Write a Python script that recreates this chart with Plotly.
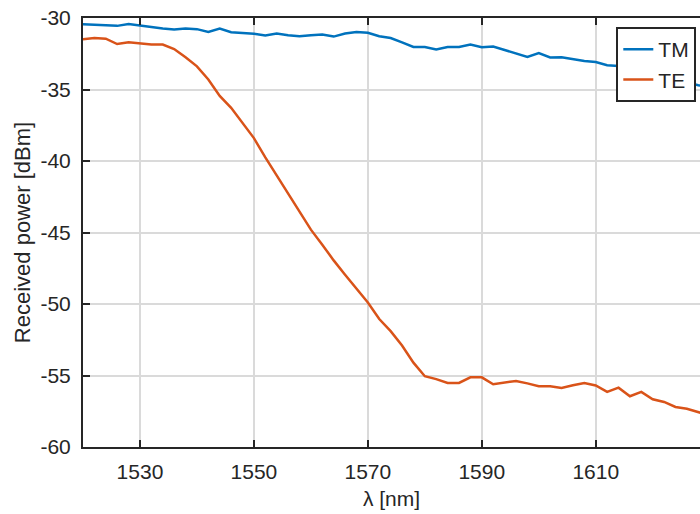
import plotly.graph_objects as go

wavelength = list(range(1520, 1632, 2))

tm_power = [-30.44, -30.48, -30.52, -30.55, -30.42, -30.53, -30.65, -30.74, -30.80, -30.74,
            -30.78, -30.97, -30.74, -31.00, -31.05, -31.10, -31.22, -31.09, -31.20, -31.28,
            -31.20, -31.15, -31.30, -31.08, -30.98, -31.03, -31.28, -31.40, -31.70, -32.02,
            -32.03, -32.20, -32.03, -32.02, -31.85, -32.05, -32.00, -32.25, -32.50, -32.72,
            -32.45, -32.76, -32.75, -32.88, -33.00, -33.08, -33.30, -33.35, -33.55, -33.70,
            -33.90, -34.10, -34.30, -34.50, -34.70, -34.80]

te_power = [-31.48, -31.40, -31.45, -31.82, -31.70, -31.78, -31.85, -31.86, -32.17, -32.75,
            -33.38, -34.30, -35.45, -36.28, -37.35, -38.40, -39.75, -41.00, -42.25, -43.50,
            -44.80, -45.85, -46.95, -47.95, -48.90, -49.90, -51.05, -51.90, -52.90, -54.10,
            -55.05, -55.25, -55.52, -55.52, -55.13, -55.13, -55.61, -55.52, -55.38, -55.55,
            -55.75, -55.75, -55.87, -55.68, -55.52, -55.70, -56.15, -55.85, -56.45, -56.15,
            -56.66, -56.85, -57.20, -57.32, -57.55, -57.80]

x_ticks = [1530, 1550, 1570, 1590, 1610]
y_ticks = [-60, -55, -50, -45, -40, -35, -30]
y_tick_labels = ["-60", "-55", "-50", "-45", "-40", "-35", "-30"]

axis_color = "#262626"
font_family = "Liberation Sans, Arial, sans-serif"

fig = go.Figure()
fig.add_trace(go.Scatter(x=wavelength, y=tm_power, mode="lines", name="TM",
                         line=dict(color="#0072BD", width=2.5)))
fig.add_trace(go.Scatter(x=wavelength, y=te_power, mode="lines", name="TE",
                         line=dict(color="#D95319", width=2.5)))

fig.update_layout(
    width=700, height=514,
    margin=dict(l=83, r=0, t=18, b=67, autoexpand=False),
    paper_bgcolor="white", plot_bgcolor="white",
    font=dict(family=font_family, size=21, color=axis_color),
    showlegend=True,
    legend=dict(x=0.994, y=0.979, xanchor="right", yanchor="top",
                bgcolor="white", bordercolor=axis_color, borderwidth=2,
                font=dict(size=21, color=axis_color),
                itemwidth=30, tracegroupgap=0),
    xaxis=dict(range=[1520, 1628.3], tickvals=x_ticks, ticks="inside", ticklen=7,
               tickwidth=2, tickcolor=axis_color, showline=True, linewidth=2,
               linecolor=axis_color, mirror="ticks", showgrid=True,
               gridcolor="#dadada", gridwidth=2, zeroline=False, automargin=False,
               ticklabelstandoff=5,
               title=dict(text="λ [nm]", font=dict(size=21), standoff=9),
               tickfont=dict(size=21)),
    yaxis=dict(range=[-60, -30], tickvals=y_ticks, ticktext=y_tick_labels,
               ticks="inside", ticklen=7,
               tickwidth=2, tickcolor=axis_color, showline=True, linewidth=2,
               linecolor=axis_color, mirror=False, showgrid=True,
               gridcolor="#dadada", gridwidth=2, zeroline=False, automargin=False,
               ticklabelstandoff=6,
               title=dict(text="Received power [dBm]", font=dict(size=22), standoff=4),
               tickfont=dict(size=21)),
)

fig.write_html("out.html", config={"displayModeBar": False},
               post_script="document.body.style.margin='0';document.body.style.padding='0';")
